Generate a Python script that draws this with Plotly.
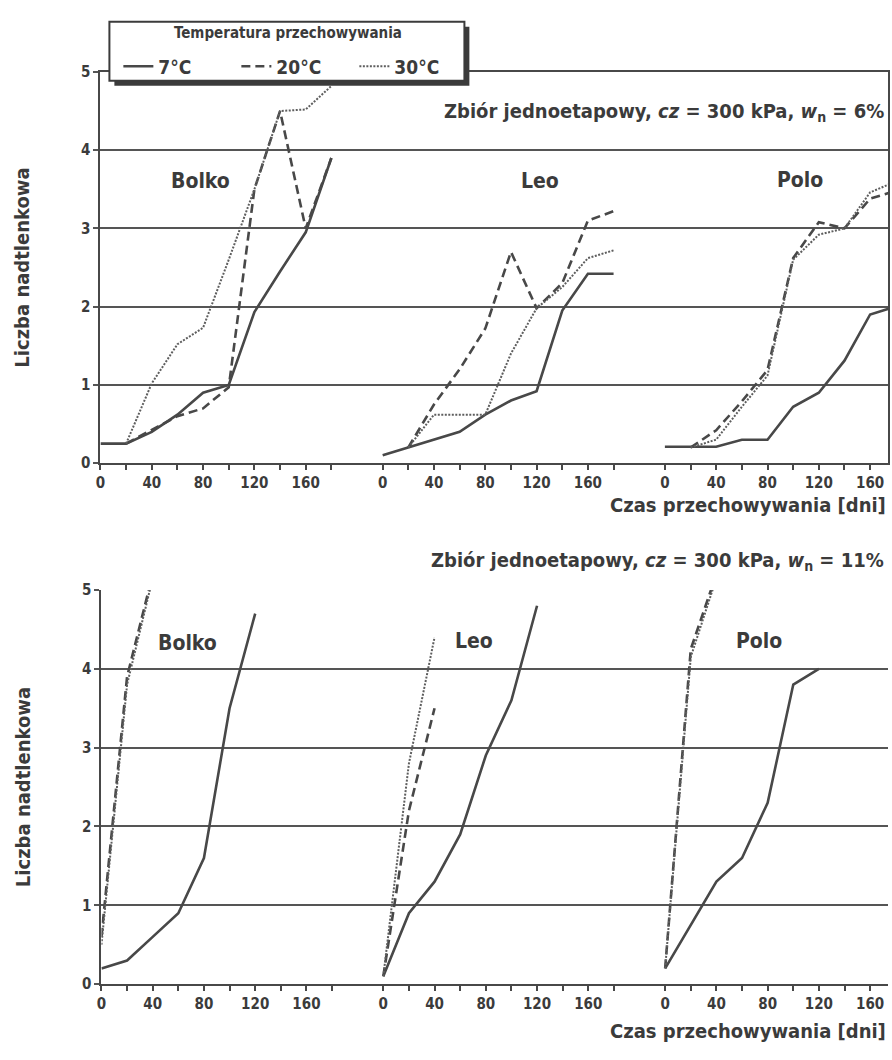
import plotly.graph_objects as go

# ---------------- data ----------------
DAYS = [0, 20, 40, 60, 80, 100, 120, 140, 160, 180]          # top chart (w_n = 6%)
DAYS_11_SLOW = [0, 20, 40, 60, 80, 100, 120]                 # bottom chart, 7°C
DAYS_11_FAST = [0, 20, 40]                                    # bottom chart, 20°C / 30°C

TEMPS = ["7°C", "20°C", "30°C"]
VARIETIES = ["Bolko", "Leo", "Polo"]
X_TICK_LABELS = ["0", "40", "80", "120", "160"]
X_MINOR_DAYS = [0, 20, 40, 60, 80, 100, 120, 140, 160, 180]
Y_TICKS = [0, 1, 2, 3, 4, 5]

# top chart: w_n = 6%
bolko_6_7 = [0.25, 0.25, 0.4, 0.62, 0.9, 1.0, 1.93, 2.45, 2.95, 3.9]
bolko_6_20 = [None, 0.25, 0.43, 0.6, 0.7, 0.97, 3.5, 4.5, 3.0, 3.9]
bolko_6_30 = [None, 0.25, 1.02, 1.52, 1.73, 2.6, 3.5, 4.5, 4.52, 4.82]
leo_6_7 = [0.1, 0.2, 0.3, 0.4, 0.62, 0.8, 0.92, 1.95, 2.42, 2.42]
leo_6_20 = [None, 0.2, 0.75, 1.2, 1.72, 2.7, 1.98, 2.3, 3.1, 3.22]
leo_6_30 = [None, 0.2, 0.62, 0.62, 0.62, 1.4, 1.98, 2.25, 2.62, 2.72]
polo_6_7 = [0.21, 0.21, 0.21, 0.3, 0.3, 0.72, 0.9, 1.31, 1.9, 2.0]
polo_6_20 = [None, 0.2, 0.42, 0.79, 1.19, 2.62, 3.08, 3.0, 3.38, 3.48]
polo_6_30 = [None, 0.2, 0.3, 0.72, 1.12, 2.6, 2.92, 3.0, 3.46, 3.6]

# bottom chart: w_n = 11%
bolko_11_7 = [0.2, 0.3, 0.6, 0.9, 1.6, 3.5, 4.7]
bolko_11_20 = [0.6, 3.9, 5.2]
bolko_11_30 = [0.5, 3.8, 5.15]
leo_11_7 = [0.1, 0.9, 1.3, 1.9, 2.9, 3.6, 4.8]
leo_11_20 = [0.1, 2.2, 3.5]
leo_11_30 = [0.1, 2.8, 4.4]
polo_11_7 = [0.2, 0.75, 1.3, 1.6, 2.3, 3.8, 4.0]
polo_11_20 = [0.2, 4.25, 5.2]
polo_11_30 = [0.2, 4.15, 5.15]

# ---------------- style / layout helpers ----------------
W, H = 892, 1060
FONT = "DejaVu Sans Condensed, Liberation Sans Narrow, Arial Narrow, sans-serif"
TXT = "#3b3b3b"
LINE = "#484848"
GRID = "#555555"
PANEL_OFFSET = {"Bolko": 0, "Leo": 220, "Polo": 440}
STYLE = {
    "7°C": dict(color=LINE, width=2.6, dash="solid"),
    "20°C": dict(color=LINE, width=2.6, dash="9px,5px"),
    "30°C": dict(color="#5e5e5e", width=2.0, dash="2px,1.5px"),
}


def px_x(p):
    return p / W


def px_y(p):
    return 1 - p / H


fig = go.Figure()

charts = [
    ("x", "y", [
        ("Bolko", DAYS, [bolko_6_7, bolko_6_20, bolko_6_30]),
        ("Leo", DAYS, [leo_6_7, leo_6_20, leo_6_30]),
        ("Polo", DAYS, [polo_6_7, polo_6_20, polo_6_30]),
    ]),
    ("x2", "y2", [
        ("Bolko", None, [bolko_11_7, bolko_11_20, bolko_11_30]),
        ("Leo", None, [leo_11_7, leo_11_20, leo_11_30]),
        ("Polo", None, [polo_11_7, polo_11_20, polo_11_30]),
    ]),
]

shown = set()
for xa, ya, panels in charts:
    for variety, days, series in panels:
        off = PANEL_OFFSET[variety]
        for temp, vals in zip(TEMPS, series):
            if days is None:
                d = DAYS_11_SLOW if temp == "7°C" else DAYS_11_FAST
            else:
                d = days
            fig.add_trace(go.Scatter(
                x=[v + off for v in d], y=vals, mode="lines",
                name=temp, legendgroup=temp,
                showlegend=temp not in shown,
                line=STYLE[temp], xaxis=xa, yaxis=ya,
                hovertemplate=variety + " " + temp + ": %{y}<extra></extra>",
            ))
            shown.add(temp)

# ticks for each panel (labelled every 40 days, minor marks every 20 days)
tickvals, ticktext, minorvals = [], [], []
for v in VARIETIES:
    for lab in X_TICK_LABELS:
        tickvals.append(PANEL_OFFSET[v] + int(lab))
        ticktext.append(lab)
    for d in X_MINOR_DAYS:
        minorvals.append(PANEL_OFFSET[v] + d)

PX_PER_DAY = 1.29
X_RANGE = [0, (888 - 96) / PX_PER_DAY]

tickfont = dict(family=FONT, size=15, color=TXT, weight=700)
xcommon = dict(range=X_RANGE, tickmode="array", tickvals=tickvals, ticktext=ticktext,
               ticks="outside", ticklen=5, tickwidth=1.5, tickcolor=LINE,
               minor=dict(tickmode="array", tickvals=minorvals, ticks="outside",
                          ticklen=5, tickwidth=1.5, tickcolor=LINE, showgrid=False),
               showgrid=False, zeroline=False, showline=True, linecolor=LINE,
               linewidth=2, tickfont=tickfont, fixedrange=True)
ycommon = dict(range=[0, 5], tickvals=Y_TICKS, ticks="outside", ticklen=5,
               tickwidth=2, tickcolor=GRID, showgrid=True, gridcolor=GRID, gridwidth=2,
               zeroline=False, showline=True, linecolor=LINE, linewidth=2,
               tickfont=tickfont, fixedrange=True,
               title=dict(text="Liczba nadtlenkowa", standoff=46,
                          font=dict(family=FONT, size=20, color=TXT, weight=700)))

fig.update_layout(
    width=W, height=H,
    margin=dict(l=0, r=0, t=0, b=0),
    paper_bgcolor="white", plot_bgcolor="white",
    xaxis=dict(domain=[px_x(96), px_x(888)], anchor="y", mirror=True, **xcommon),
    yaxis=dict(domain=[px_y(462), px_y(64)], anchor="x", mirror=True, **ycommon),
    xaxis2=dict(domain=[px_x(97), px_x(888)], anchor="y2", **xcommon),
    yaxis2=dict(domain=[px_y(992), px_y(591)], anchor="x2", **ycommon),
    legend=dict(
        x=px_x(114), y=px_y(39), xanchor="left", yanchor="top",
        orientation="h", bgcolor="rgba(0,0,0,0)", borderwidth=0,
        font=dict(family=FONT, size=19, color=TXT, weight=700),
        entrywidth=73, entrywidthmode="pixels", itemwidth=30, tracegroupgap=0,
    ),
    showlegend=True,
)

# legend frame: shadow (offset down-right) and white box
fig.add_shape(type="rect", xref="paper", yref="paper",
              x0=px_x(110), x1=px_x(467), y0=px_y(78), y1=px_y(18),
              fillcolor=TXT, line=dict(width=0), layer="above")
fig.add_shape(type="rect", xref="paper", yref="paper",
              x0=px_x(105), x1=px_x(462), y0=px_y(73), y1=px_y(13),
              fillcolor="white", line=dict(color=TXT, width=2), layer="above")

ann_font = dict(family=FONT, size=20, color=TXT, weight=700)
label_font = dict(family=FONT, size=21, color=TXT, weight=700)

annotations = [
    dict(text="Temperatura przechowywania", x=px_x(285), y=px_y(24),
         xanchor="center", yanchor="middle",
         font=dict(family=FONT, size=15, color=TXT, weight=700)),
    dict(text="Zbiór jednoetapowy, <i>cz</i> = 300 kPa, <i>w</i><sub>n</sub> = 6%",
         x=px_x(886), y=px_y(105), xanchor="right", yanchor="middle", font=ann_font),
    dict(text="Czas przechowywania [dni]", x=px_x(888), y=px_y(505),
         xanchor="right", yanchor="middle", font=ann_font),
    dict(text="Zbiór jednoetapowy, <i>cz</i> = 300 kPa, <i>w</i><sub>n</sub> = 11%",
         x=px_x(886), y=px_y(562), xanchor="right", yanchor="middle", font=ann_font),
    dict(text="Czas przechowywania [dni]", x=px_x(888), y=px_y(1040),
         xanchor="right", yanchor="middle", font=ann_font),
]
for a in annotations:
    a.update(xref="paper", yref="paper", showarrow=False)
    fig.add_annotation(**a)

# variety labels (positions in panel days / y units)
top_labels = [("Bolko", 78, 3.6), ("Leo", 123, 3.6), ("Polo", 105, 3.62)]
bot_labels = [("Bolko", 67, 4.33), ("Leo", 71, 4.35), ("Polo", 73, 4.35)]
for name, d, yv in top_labels:
    fig.add_annotation(text=name, x=PANEL_OFFSET[name] + d, y=yv, xref="x", yref="y",
                       showarrow=False, font=label_font)
for name, d, yv in bot_labels:
    fig.add_annotation(text=name, x=PANEL_OFFSET[name] + d, y=yv, xref="x2", yref="y2",
                       showarrow=False, font=label_font)

fig.write_html(
    "out.html",
    config={"displayModeBar": False},
    post_script="document.body.style.margin='0';document.body.style.overflow='hidden';",
)
